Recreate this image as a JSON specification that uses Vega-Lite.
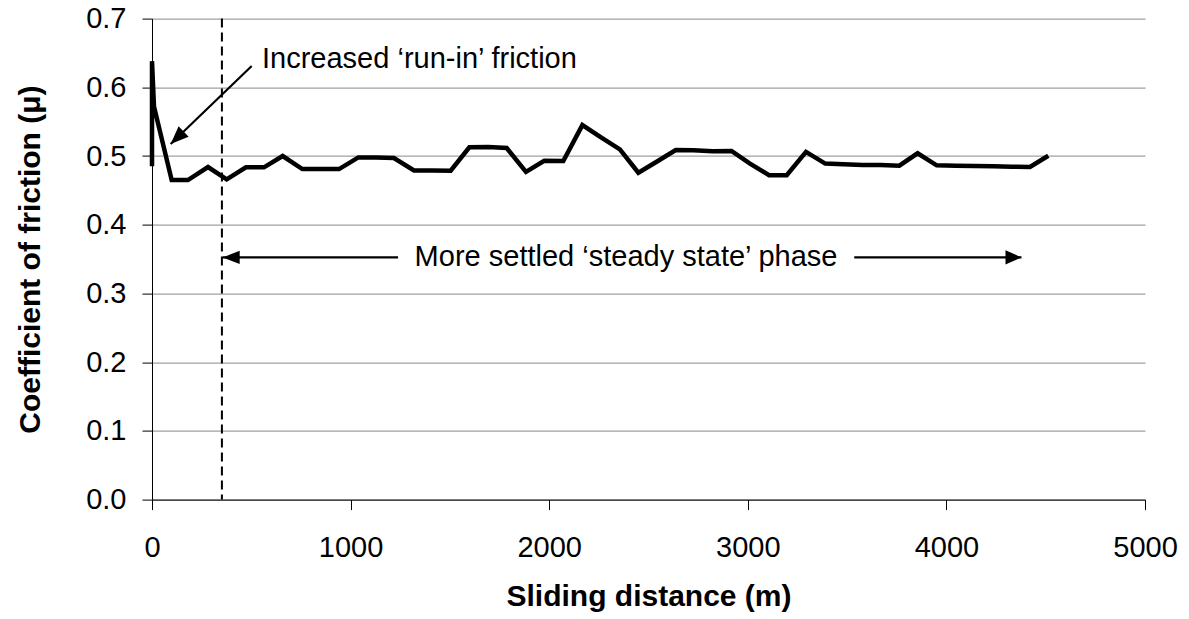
{
  "$schema": "https://vega.github.io/schema/vega-lite/v6.json",
  "width": 993,
  "height": 481,
  "autosize": {"type": "none"},
  "padding": {"left": 152, "top": 18.6, "right": 44, "bottom": 119.4},
  "background": "white",
  "config": {"view": {"stroke": null}, "font": "Liberation Sans"},
  "datasets": {
    "friction": [
      {"i": 0, "distance": 0, "mu": 0.485},
      {"i": 1, "distance": 0, "mu": 0.638},
      {"i": 2, "distance": 10, "mu": 0.572},
      {"i": 3, "distance": 99, "mu": 0.465},
      {"i": 4, "distance": 181, "mu": 0.465},
      {"i": 5, "distance": 282, "mu": 0.484},
      {"i": 6, "distance": 376, "mu": 0.466},
      {"i": 7, "distance": 473, "mu": 0.4835},
      {"i": 8, "distance": 564, "mu": 0.4835},
      {"i": 9, "distance": 658, "mu": 0.5},
      {"i": 10, "distance": 757, "mu": 0.481},
      {"i": 11, "distance": 850, "mu": 0.481},
      {"i": 12, "distance": 942, "mu": 0.481},
      {"i": 13, "distance": 1039, "mu": 0.498},
      {"i": 14, "distance": 1128, "mu": 0.498},
      {"i": 15, "distance": 1218, "mu": 0.497},
      {"i": 16, "distance": 1319, "mu": 0.479},
      {"i": 17, "distance": 1410, "mu": 0.479},
      {"i": 18, "distance": 1504, "mu": 0.4786},
      {"i": 19, "distance": 1598, "mu": 0.5127},
      {"i": 20, "distance": 1693, "mu": 0.513},
      {"i": 21, "distance": 1786, "mu": 0.5116},
      {"i": 22, "distance": 1883, "mu": 0.477},
      {"i": 23, "distance": 1975, "mu": 0.493},
      {"i": 24, "distance": 2071, "mu": 0.4927},
      {"i": 25, "distance": 2167, "mu": 0.545},
      {"i": 26, "distance": 2261, "mu": 0.527},
      {"i": 27, "distance": 2356, "mu": 0.5097},
      {"i": 28, "distance": 2449, "mu": 0.4757},
      {"i": 29, "distance": 2541, "mu": 0.4917},
      {"i": 30, "distance": 2637, "mu": 0.5087},
      {"i": 31, "distance": 2726, "mu": 0.5083},
      {"i": 32, "distance": 2823, "mu": 0.507},
      {"i": 33, "distance": 2918, "mu": 0.5073},
      {"i": 34, "distance": 3011, "mu": 0.489},
      {"i": 35, "distance": 3107, "mu": 0.472},
      {"i": 36, "distance": 3196, "mu": 0.472},
      {"i": 37, "distance": 3293, "mu": 0.506},
      {"i": 38, "distance": 3390, "mu": 0.489},
      {"i": 39, "distance": 3481, "mu": 0.488},
      {"i": 40, "distance": 3579, "mu": 0.487},
      {"i": 41, "distance": 3669, "mu": 0.487},
      {"i": 42, "distance": 3763, "mu": 0.486},
      {"i": 43, "distance": 3855, "mu": 0.504},
      {"i": 44, "distance": 3951, "mu": 0.4865},
      {"i": 45, "distance": 4048, "mu": 0.486},
      {"i": 46, "distance": 4141, "mu": 0.4855},
      {"i": 47, "distance": 4236, "mu": 0.485},
      {"i": 48, "distance": 4329, "mu": 0.4845},
      {"i": 49, "distance": 4421, "mu": 0.484},
      {"i": 50, "distance": 4513, "mu": 0.5004}
    ],
    "arrows": [
      {"name": "runin", "x": 502, "y": 0.631, "x2": 94, "y2": 0.5175},
      {"name": "left", "x": 1239, "y": 0.3525, "x2": 356, "y2": 0.3525},
      {"name": "right", "x": 3536, "y": 0.3525, "x2": 4378, "y2": 0.3525}
    ],
    "labels": [
      {"label": "Increased ‘run-in’ friction", "x": 554, "y": 0.641, "pos": "left"},
      {"label": "More settled ‘steady state’ phase", "x": 2387, "y": 0.3525, "pos": "center"}
    ],
    "phase": [{"x": 352}]
  },
  "layer": [
    {
      "data": {"name": "friction"},
      "mark": {"type": "line", "color": "black", "strokeWidth": 4.5, "strokeJoin": "miter"},
      "encoding": {
        "x": {
          "field": "distance", "type": "quantitative",
          "scale": {"domain": [0, 5000], "nice": false, "zero": false},
          "axis": {
            "title": "Sliding distance (m)",
            "values": [0, 1000, 2000, 3000, 4000, 5000],
            "format": "d",
            "grid": false,
            "tickSize": 10, "tickColor": "black", "domainColor": "black",
            "labelFont": "Liberation Sans", "labelFontSize": 29, "labelColor": "black",
            "labelPadding": 24, "labelFlush": false, "labelOverlap": false,
            "titleFont": "Liberation Sans", "titleFontSize": 30, "titleFontWeight": "bold", "titleColor": "black",
            "titleY": 105.5, "titleBaseline": "alphabetic"
          }
        },
        "y": {
          "field": "mu", "type": "quantitative",
          "scale": {"domain": [0, 0.7], "nice": false},
          "axis": {
            "title": "Coefficient of friction (μ)",
            "values": [0, 0.1, 0.2, 0.3, 0.4, 0.5, 0.6, 0.7],
            "format": ".1f",
            "grid": true, "gridColor": "#888888", "gridWidth": 1,
            "tickSize": 10, "tickColor": "black", "domainColor": "black",
            "labelFont": "Liberation Sans", "labelFontSize": 29, "labelColor": "black",
            "labelPadding": 16, "labelFlush": false, "labelOverlap": false,
            "titleFont": "Liberation Sans", "titleFontSize": 30, "titleFontWeight": "bold", "titleColor": "black",
            "titleX": -122, "titleBaseline": "middle"
          }
        },
        "order": {"field": "i", "type": "quantitative"}
      }
    },
    {
      "data": {"name": "phase"},
      "mark": {"type": "rule", "color": "black", "strokeWidth": 2, "strokeDash": [9, 5]},
      "encoding": {"x": {"field": "x", "type": "quantitative"}}
    },
    {
      "data": {"name": "arrows"},
      "mark": {"type": "rule", "color": "black", "strokeWidth": 2.2},
      "encoding": {
        "x": {"field": "x", "type": "quantitative"},
        "y": {"field": "y", "type": "quantitative"},
        "x2": {"field": "x2"},
        "y2": {"field": "y2"}
      }
    },
    {
      "data": {"name": "arrows"},
      "transform": [{"filter": "datum.name === 'left'"}],
      "mark": {"type": "point", "shape": "M0,0L2,-0.78L2,0.78Z", "filled": true, "color": "black", "opacity": 1, "size": 289, "strokeWidth": 0},
      "encoding": {
        "x": {"field": "x2", "type": "quantitative"},
        "y": {"field": "y2", "type": "quantitative"}
      }
    },
    {
      "data": {"name": "arrows"},
      "transform": [{"filter": "datum.name === 'right'"}],
      "mark": {"type": "point", "shape": "M0,0L-2,-0.9L-2,0.9Z", "filled": true, "color": "black", "opacity": 1, "size": 256, "strokeWidth": 0},
      "encoding": {
        "x": {"field": "x2", "type": "quantitative"},
        "y": {"field": "y2", "type": "quantitative"}
      }
    },
    {
      "data": {"name": "arrows"},
      "transform": [{"filter": "datum.name === 'runin'"}],
      "mark": {"type": "point", "shape": "M0,0L2,-0.8L2,0.8Z", "filled": true, "color": "black", "opacity": 1, "size": 324, "strokeWidth": 0, "angle": 316},
      "encoding": {
        "x": {"field": "x2", "type": "quantitative"},
        "y": {"field": "y2", "type": "quantitative"}
      }
    },
    {
      "data": {"name": "labels"},
      "transform": [{"filter": "datum.pos === 'left'"}],
      "mark": {"type": "text", "align": "left", "baseline": "middle", "font": "Liberation Sans", "fontSize": 29, "color": "black"},
      "encoding": {
        "x": {"field": "x", "type": "quantitative"},
        "y": {"field": "y", "type": "quantitative"},
        "text": {"field": "label"}
      }
    },
    {
      "data": {"name": "labels"},
      "transform": [{"filter": "datum.pos === 'center'"}],
      "mark": {"type": "text", "align": "center", "baseline": "middle", "font": "Liberation Sans", "fontSize": 29, "color": "black"},
      "encoding": {
        "x": {"field": "x", "type": "quantitative"},
        "y": {"field": "y", "type": "quantitative"},
        "text": {"field": "label"}
      }
    }
  ]
}
